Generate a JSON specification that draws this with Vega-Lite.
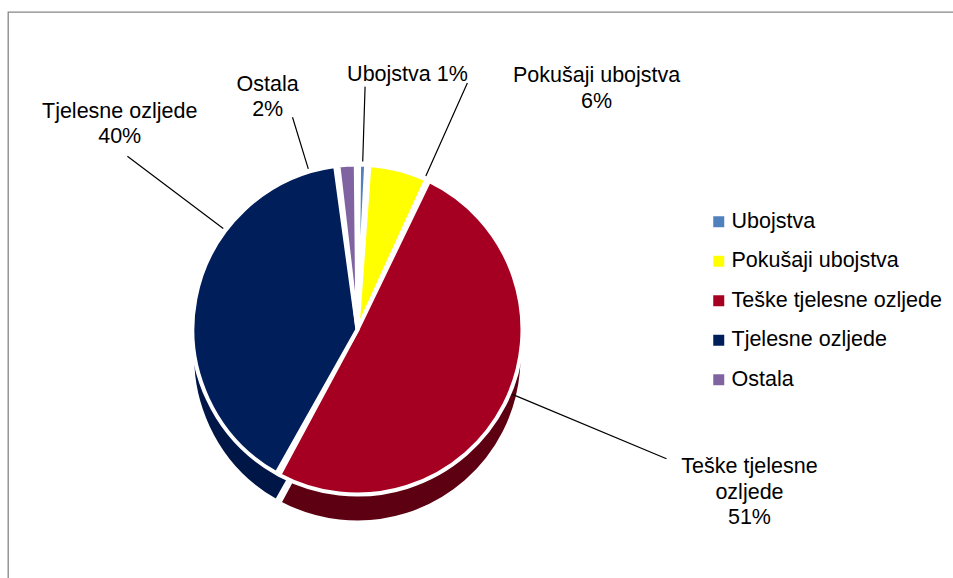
{
  "$schema": "https://vega.github.io/schema/vega-lite/v6.json",
  "width": 947,
  "height": 568,
  "autosize": {"type": "none"},
  "padding": {"left": 8, "top": 12, "right": -2, "bottom": -2},
  "background": "white",
  "config": {
    "view": {"stroke": "#868686", "strokeWidth": 1.3},
    "font": "Liberation Sans",
    "text": {"font": "Liberation Sans", "fontSize": 21.5, "color": "black", "lineBreak": "\n", "lineHeight": 25.5, "align": "center", "baseline": "middle"}
  },
  "data": {
    "values": [
      {"cat": "Ubojstva", "value": 1, "label": "Ubojstva 1%"},
      {"cat": "Pokušaji ubojstva", "value": 6, "label": "Pokušaji ubojstva\n6%"},
      {"cat": "Teške tjelesne ozljede", "value": 51, "label": "Teške tjelesne\nozljede\n51%"},
      {"cat": "Tjelesne ozljede", "value": 40, "label": "Tjelesne ozljede\n40%"},
      {"cat": "Ostala", "value": 2, "label": "Ostala\n2%"}
    ]
  },
  "transform": [{"window": [{"op": "row_number", "as": "idx"}]}],
  "encoding": {
    "theta": {"field": "value", "type": "quantitative", "stack": true},
    "order": {"field": "idx", "type": "quantitative"}
  },
  "resolve": {"scale": {"color": "independent"}, "legend": {"color": "independent"}},
  "layer": [
    {
      "mark": {"type": "rule", "opacity": 0},
      "encoding": {"x": {"datum": 0, "type": "quantitative", "axis": null}, "theta": null, "order": null}
    },
    {
      "mark": {"type": "arc", "radius": 165, "padAngle": 0.02, "stroke": "white", "strokeWidth": 4, "x": {"expr": "width*0.369"}, "y": {"expr": "height*0.559+28"}},
      "encoding": {
        "color": {"field": "cat", "type": "nominal", "legend": null,
          "scale": {"domain": ["Ubojstva", "Pokušaji ubojstva", "Teške tjelesne ozljede", "Tjelesne ozljede", "Ostala"],
                    "range": ["#2F5F95", "#BDBD00", "#5C0012", "#001646", "#372A48"]}}
      }
    },
    {
      "mark": {"type": "arc", "radius": 165, "padAngle": 0.02, "stroke": "white", "strokeWidth": 4, "x": {"expr": "width*0.369"}, "y": {"expr": "height*0.559"}},
      "encoding": {
        "color": {"field": "cat", "type": "nominal",
          "scale": {"domain": ["Ubojstva", "Pokušaji ubojstva", "Teške tjelesne ozljede", "Tjelesne ozljede", "Ostala"],
                    "range": ["#4F81BD", "#FFFF00", "#A50021", "#001E5A", "#8064A2"]},
          "legend": {"title": null, "orient": "none", "legendX": 700, "legendY": 199, "symbolType": "square", "symbolSize": 121,
                     "labelFontSize": 21.5, "labelFont": "Liberation Sans", "labelColor": "black", "rowPadding": 16.5, "labelOffset": 2,
                     "labelLimit": 0, "padding": 0, "symbolStrokeWidth": 0}}
      }
    },
    {
      "mark": {"type": "arc", "radius": 243, "radius2": 168, "padAngle": 3.2, "fillOpacity": 0, "stroke": "black", "strokeWidth": 1.2, "x": {"expr": "width*0.369"}, "y": {"expr": "height*0.559"}},
      "encoding": {"strokeOpacity": {"condition": {"test": "datum.cat === 'Ubojstva'", "value": 1}, "value": 0}}
    },
    {
      "mark": {"type": "arc", "radius": 270, "radius2": 168, "padAngle": 3.2, "thetaOffset": 0.168, "theta2Offset": 0.168, "fillOpacity": 0, "stroke": "black", "strokeWidth": 1.2, "x": {"expr": "width*0.369"}, "y": {"expr": "height*0.559"}},
      "encoding": {"strokeOpacity": {"condition": {"test": "datum.cat === 'Pokušaji ubojstva'", "value": 1}, "value": 0}}
    },
    {
      "mark": {"type": "arc", "radius": 335, "radius2": 168, "padAngle": 3.2, "thetaOffset": 1.7157, "theta2Offset": 1.7157, "fillOpacity": 0, "stroke": "black", "strokeWidth": 1.2, "x": {"expr": "width*0.369"}, "y": {"expr": "height*0.559"}},
      "encoding": {"strokeOpacity": {"condition": {"test": "datum.cat === 'Pokušaji ubojstva'", "value": 1}, "value": 0}}
    },
    {
      "mark": {"type": "arc", "radius": 288, "radius2": 168, "padAngle": 3.2, "thetaOffset": 0.457, "theta2Offset": 0.457, "fillOpacity": 0, "stroke": "black", "strokeWidth": 1.2, "x": {"expr": "width*0.369"}, "y": {"expr": "height*0.559"}},
      "encoding": {"strokeOpacity": {"condition": {"test": "datum.cat === 'Tjelesne ozljede'", "value": 1}, "value": 0}}
    },
    {
      "mark": {"type": "arc", "radius": 222, "radius2": 168, "padAngle": 3.2, "thetaOffset": -0.234, "theta2Offset": -0.234, "fillOpacity": 0, "stroke": "black", "strokeWidth": 1.2, "x": {"expr": "width*0.369"}, "y": {"expr": "height*0.559"}},
      "encoding": {"strokeOpacity": {"condition": {"test": "datum.cat === 'Ostala'", "value": 1}, "value": 0}}
    },
    {
      "mark": {"type": "text", "radius": 255, "dx": 42, "dy": 0, "x": {"expr": "width*0.369"}, "y": {"expr": "height*0.559"}},
      "encoding": {"text": {"condition": {"test": "datum.cat === 'Ubojstva'", "field": "label"}, "value": ""}}
    },
    {
      "mark": {"type": "text", "radius": 250, "dx": 177, "dy": -11, "x": {"expr": "width*0.369"}, "y": {"expr": "height*0.559"}},
      "encoding": {"text": {"condition": {"test": "datum.cat === 'Pokušaji ubojstva'", "field": "label"}, "value": ""}}
    },
    {
      "mark": {"type": "text", "radius": 330, "dx": 98, "dy": -12, "x": {"expr": "width*0.369"}, "y": {"expr": "height*0.559"}},
      "encoding": {"text": {"condition": {"test": "datum.cat === 'Teške tjelesne ozljede'", "field": "label"}, "value": ""}}
    },
    {
      "mark": {"type": "text", "radius": 240, "dx": -2, "dy": -173, "x": {"expr": "width*0.369"}, "y": {"expr": "height*0.559"}},
      "encoding": {"text": {"condition": {"test": "datum.cat === 'Tjelesne ozljede'", "field": "label"}, "value": ""}}
    },
    {
      "mark": {"type": "text", "radius": 235, "dx": -75, "dy": -10, "x": {"expr": "width*0.369"}, "y": {"expr": "height*0.559"}},
      "encoding": {"text": {"condition": {"test": "datum.cat === 'Ostala'", "field": "label"}, "value": ""}}
    }
  ]
}
